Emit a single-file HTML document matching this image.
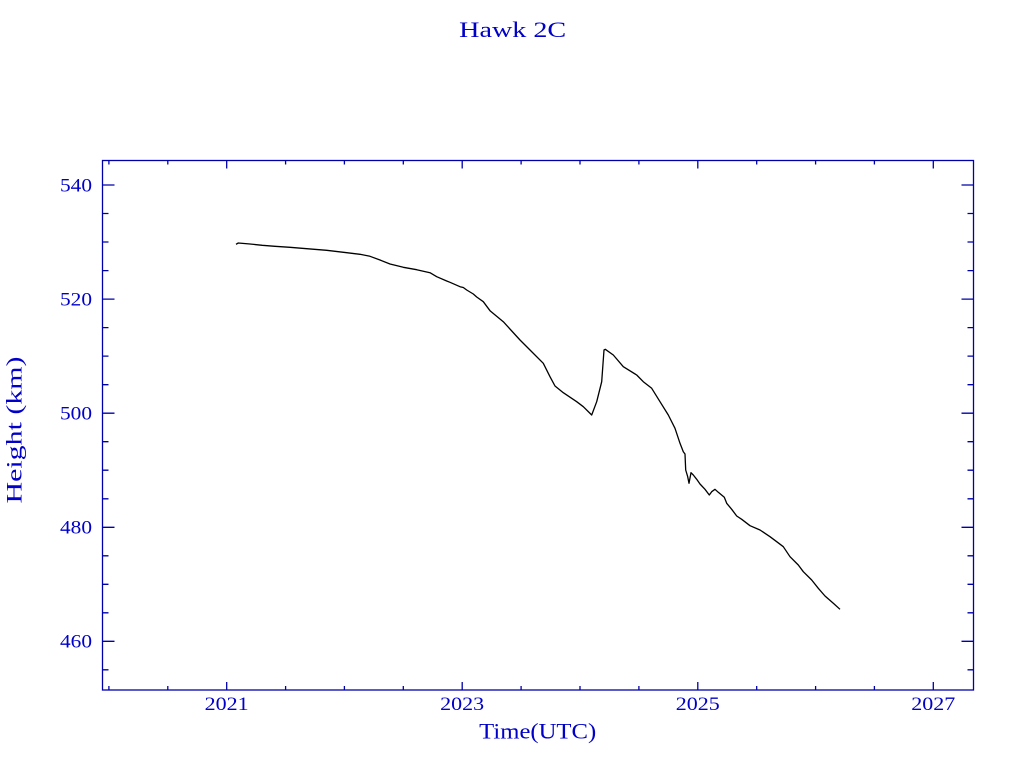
<!DOCTYPE html>
<html><head><meta charset="utf-8"><style>
html,body{margin:0;padding:0;background:#fff;}
svg{display:block;}
</style></head><body>
<svg width="1024" height="768" viewBox="0 0 1024 768" xmlns="http://www.w3.org/2000/svg">
<rect width="1024" height="768" fill="#fff"/>
<g fill="#0000c8" font-family="Liberation Serif, serif">
<text x="512.7" y="37" font-size="22" text-anchor="middle" textLength="107" lengthAdjust="spacingAndGlyphs">Hawk 2C</text>
<text x="537.7" y="738.5" font-size="22" text-anchor="middle" textLength="117" lengthAdjust="spacingAndGlyphs">Time(UTC)</text>
<text transform="translate(21.5,430) rotate(-90)" font-size="22" text-anchor="middle" textLength="147" lengthAdjust="spacingAndGlyphs">Height (km)</text>
<g font-size="18.5">
<text x="92" y="191.3" text-anchor="end" textLength="32" lengthAdjust="spacingAndGlyphs">540</text>
<text x="92" y="305.4" text-anchor="end" textLength="32" lengthAdjust="spacingAndGlyphs">520</text>
<text x="92" y="419.5" text-anchor="end" textLength="32" lengthAdjust="spacingAndGlyphs">500</text>
<text x="92" y="533.6" text-anchor="end" textLength="32" lengthAdjust="spacingAndGlyphs">480</text>
<text x="92" y="647.6" text-anchor="end" textLength="32" lengthAdjust="spacingAndGlyphs">460</text>
<text x="226.7" y="710" text-anchor="middle" textLength="44" lengthAdjust="spacingAndGlyphs">2021</text>
<text x="462.2" y="710" text-anchor="middle" textLength="44" lengthAdjust="spacingAndGlyphs">2023</text>
<text x="697.8" y="710" text-anchor="middle" textLength="44" lengthAdjust="spacingAndGlyphs">2025</text>
<text x="933.3" y="710" text-anchor="middle" textLength="44" lengthAdjust="spacingAndGlyphs">2027</text>
</g>
</g>
<g stroke="#0000aa" stroke-width="1.3" fill="none">
<rect x="102.5" y="160.5" width="871" height="529.5"/>
<path d="
M102.5 185 h12 M973.5 185 h-12
M102.5 299.1 h12 M973.5 299.1 h-12
M102.5 413.2 h12 M973.5 413.2 h-12
M102.5 527.3 h12 M973.5 527.3 h-12
M102.5 641.3 h12 M973.5 641.3 h-12
M102.5 213.5 h6 M973.5 213.5 h-6
M102.5 242 h6 M973.5 242 h-6
M102.5 270.6 h6 M973.5 270.6 h-6
M102.5 327.6 h6 M973.5 327.6 h-6
M102.5 356.1 h6 M973.5 356.1 h-6
M102.5 384.7 h6 M973.5 384.7 h-6
M102.5 441.7 h6 M973.5 441.7 h-6
M102.5 470.2 h6 M973.5 470.2 h-6
M102.5 498.8 h6 M973.5 498.8 h-6
M102.5 555.8 h6 M973.5 555.8 h-6
M102.5 584.3 h6 M973.5 584.3 h-6
M102.5 612.8 h6 M973.5 612.8 h-6
M102.5 669.8 h6 M973.5 669.8 h-6
M226.7 690 v-8 M226.7 160.5 v8
M462.2 690 v-8 M462.2 160.5 v8
M697.8 690 v-8 M697.8 160.5 v8
M933.3 690 v-8 M933.3 160.5 v8
M108.9 690 v-4 M108.9 160.5 v4
M167.8 690 v-4 M167.8 160.5 v4
M285.6 690 v-4 M285.6 160.5 v4
M344.4 690 v-4 M344.4 160.5 v4
M403.3 690 v-4 M403.3 160.5 v4
M521.1 690 v-4 M521.1 160.5 v4
M580 690 v-4 M580 160.5 v4
M638.9 690 v-4 M638.9 160.5 v4
M756.7 690 v-4 M756.7 160.5 v4
M815.6 690 v-4 M815.6 160.5 v4
M874.4 690 v-4 M874.4 160.5 v4
"/>
</g>
<polyline fill="none" stroke="#000" stroke-width="1.3" stroke-linejoin="round" points="236,244.3 238.3,243 250,244 262.3,245.3 275,246.3 290,247.3 306.7,248.7 326.7,250.3 346.7,252.7 360,254.3 370,256.3 380,260 390,264 403.3,267.3 416.7,269.7 430,272.7 436.7,276.7 446.7,281 450,282.3 460,286.7 463.3,287.5 466.7,290 473.3,294 476.7,297 483.3,301.7 490,310.7 503.3,321.7 520,340 530,350 543.3,363.3 550,376.7 555,386 563.3,392.7 576.7,401.7 583.3,406.7 591.7,415 596.7,401.7 601.7,381.7 604,350 605.3,349.3 613.3,355 623.3,366.7 636.7,375 643.3,381.7 651.7,388.3 660,401.7 668.3,415 675,428.3 680,443.3 683.3,451.7 685,454 685.7,470 687.7,476.7 689,483.3 691,472.7 693.3,475 696.7,479.3 700,484 705,489.3 709.3,495 711.7,491.7 715,489.3 718.3,492.3 724.3,497.3 726.7,503.3 731.7,509.3 736.7,516 741.7,519.3 750,525.7 760,530 770,536.7 776.7,541.7 783.3,546.7 790,556.7 798.3,565 803.3,571.7 811.7,580 818.3,588.3 825,596 833.3,603.3 840,609.3"/>
</svg>
</body></html>
